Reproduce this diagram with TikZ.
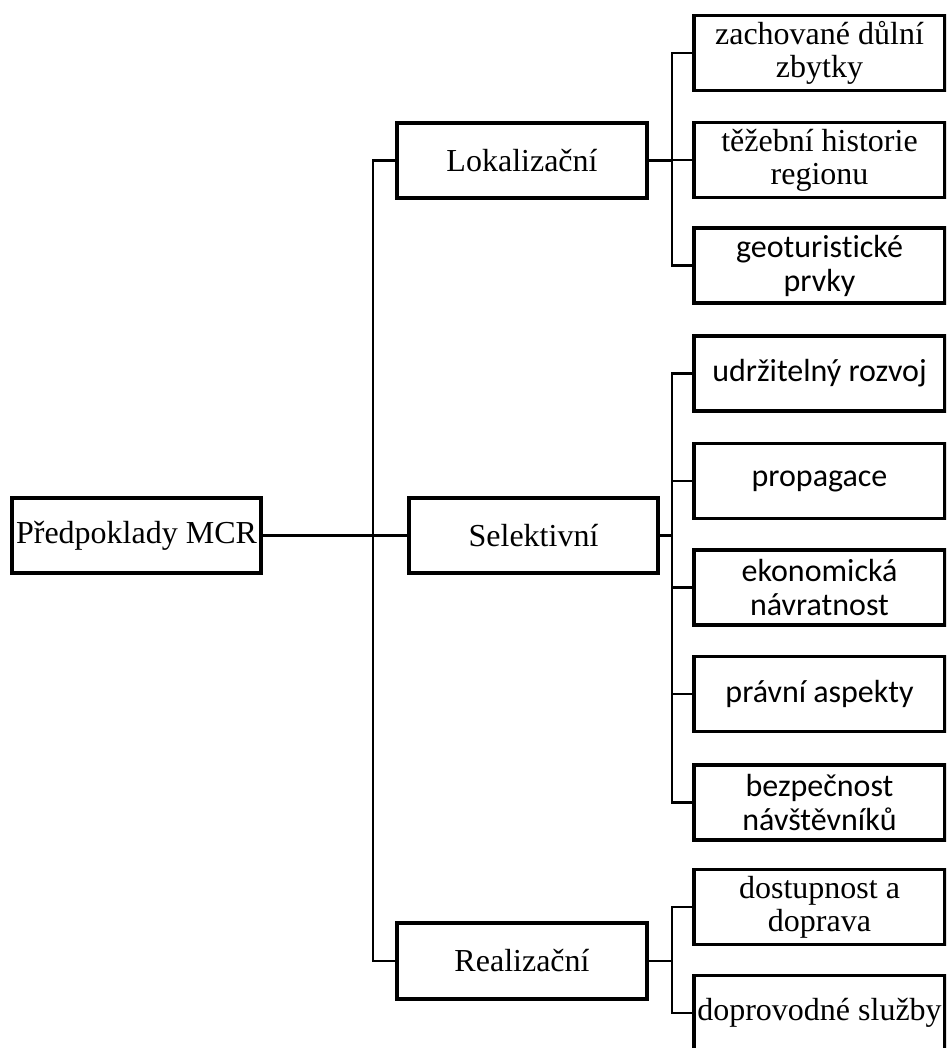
\documentclass[tikz,border=0pt]{standalone}
\usepackage{fontspec}
\setmainfont{Liberation Serif}
\newfontfamily\carlitofont[Ligatures=NoCommon]{Carlito}
\begin{document}
\begin{tikzpicture}[x=1pt,y=-1pt,
  box/.style={draw, line width=3.4pt, inner sep=0pt, align=center, minimum height=75pt},
  ser/.style={font=\fontsize{32}{33}\selectfont},
  san/.style={font=\carlitofont\fontsize{32}{34}\selectfont},
  kid/.style={box, minimum width=251pt},
  link/.style={line width=2.2pt}]
\useasboundingbox (0,0) rectangle (946,1048);
\begin{scope}
\clip (0,0) rectangle (946,1048);
% main nodes
\node[box,ser,minimum width=249pt] (root) at (136.5,535.5) {Předpoklady MCR};
\node[box,ser,minimum width=250pt] (lok) at (522,160.5) {Lokalizační};
\node[box,ser,minimum width=249pt] (sel) at (533.5,535.5) {Selektivní};
\node[box,ser,minimum width=250pt,minimum height=76pt] (rea) at (522,961) {Realizační};
% children of Lokalizační
\node[kid,ser] (c1) at (819.5,53) {zachované důlní\\zbytky};
\node[kid,ser] (c2) at (819.5,160) {těžební historie\\regionu};
\node[kid,san] (c3) at (819.5,265.5) {geoturistické\\prvky};
% children of Selektivní
\node[kid,san] (s1) at (819.5,373.5) {udržitelný rozvoj};
\node[kid,san] (s2) at (819.5,481) {propagace};
\node[kid,san] (s3) at (819.5,587.5) {ekonomická\\návratnost};
\node[kid,san] (s4) at (819.5,694) {právní aspekty};
\node[kid,san] (s5) at (819.5,802.5) {bezpečnost\\návštěvníků};
% children of Realizační
\node[kid,ser] (r1) at (819.5,907) {dostupnost a\\doprava};
\node[kid,ser] (r2) at (819.5,1013) {doprovodné služby};
% bus coordinates
\coordinate (b1) at (373,0);
\coordinate (b2) at (672,0);
% connectors
\draw[link] (root.east) -- (sel.west);
\draw[link] (lok.west) -- (lok.west -| b1) -- (rea.west -| b1) -- (rea.west);
\draw[link] (lok.east) -- (lok.east -| b2);
\draw[link] (c1.west) -- (c1.west -| b2) -- (c3.west -| b2) -- (c3.west);
\draw[link] (c2.west) -- (c2.west -| b2);
\draw[link] (sel.east) -- (sel.east -| b2);
\draw[link] (s1.west) -- (s1.west -| b2) -- (s5.west -| b2) -- (s5.west);
\draw[link] (s2.west) -- (s2.west -| b2);
\draw[link] (s3.west) -- (s3.west -| b2);
\draw[link] (s4.west) -- (s4.west -| b2);
\draw[link] (rea.east) -- (rea.east -| b2);
\draw[link] (r1.west) -- (r1.west -| b2) -- (r2.west -| b2) -- (r2.west);
\end{scope}
\end{tikzpicture}
\end{document}
